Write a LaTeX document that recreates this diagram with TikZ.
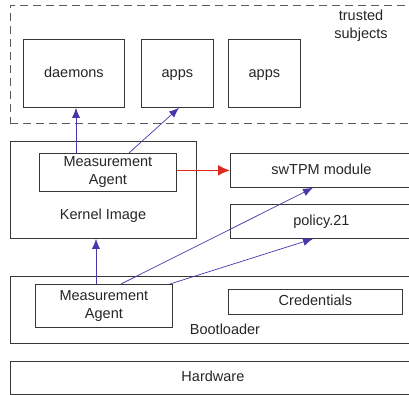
\documentclass[tikz,border=0pt]{standalone}
\usepackage{fontspec}
\setmainfont{Liberation Sans}
\usetikzlibrary{arrows.meta,calc}
\definecolor{boxline}{RGB}{55,55,55}
\definecolor{dashline}{RGB}{90,90,90}
\definecolor{arrblue}{RGB}{70,55,170}
\definecolor{arrred}{RGB}{225,40,30}
\begin{document}
\begin{tikzpicture}[x=1pt,y=-1pt,
  every node/.style={font=\fontsize{14.5}{18}\selectfont, inner sep=0pt, text=black!85},
  txt/.style={text height=10.5pt, text depth=3pt},
  box/.style={draw=boxline, line width=0.8pt, rectangle, anchor=north west},
  dashbox/.style={draw=dashline, line width=0.9pt, dash pattern=on 8pt off 5pt, rectangle, anchor=north west},
  lbl/.style={align=center},
  barrow/.style={draw=arrblue, line width=0.7pt, -{Latex[length=10pt,width=8pt]}},
  rarrow/.style={draw=arrred, line width=1.6pt, -{Latex[length=12pt,width=11pt]}}
]
\useasboundingbox (0,0) rectangle (409,395);
% trusted subjects
\node[dashbox, minimum width=405pt, minimum height=118pt] (trusted) at (10,5) {};
\node[lbl] (tstext) at (361,26) {trusted\\subjects};
\node[box, minimum width=101pt, minimum height=68pt] (daemons) at (23,39) {};
\node[txt] (daemonst) at (daemons.center) {daemons};
\node[box, minimum width=72pt, minimum height=68pt] (apps1) at (141,39) {};
\node[txt] (apps1t) at (apps1.center) {apps};
\node[box, minimum width=72pt, minimum height=68pt] (apps2) at (228,39) {};
\node[txt] (apps2t) at (apps2.center) {apps};
% kernel
\node[box, minimum width=186pt, minimum height=97pt] (kernel) at (10,141) {};
\node[txt] (kernelt) at (103,216) {Kernel Image};
\node[box, minimum width=137pt, minimum height=38pt, fill=white] (kma) at (39,153) {};
\node[lbl] (kmat) at (kma.center) {Measurement\\Agent};
% right boxes
\node[box, minimum width=182pt, minimum height=34pt] (swtpm) at (230,153) {};
\node[txt] (swtpmt) at (swtpm.center) {swTPM module};
\node[box, minimum width=182pt, minimum height=34pt] (policy) at (230,204) {};
\node[txt] (policyt) at (policy.center) {policy.21};
% bootloader
\node[box, minimum width=405pt, minimum height=67pt] (boot) at (10,276) {};
\node[txt] (boott) at (225,331) {Bootloader};
\node[box, minimum width=137pt, minimum height=43pt] (bma) at (35,284) {};
\node[lbl] (bmat) at (bma.center) {Measurement\\Agent};
\node[box, minimum width=174pt, minimum height=25pt] (cred) at (228,289) {};
\node[txt] (credt) at (cred.center) {Credentials};
% hardware
\node[box, minimum width=405pt, minimum height=33pt] (hw) at (10,361) {};
\node[txt] (hwt) at (hw.center) {Hardware};
% arrows
\draw[barrow] ([xshift=37pt]kma.north west) -- ([xshift=53pt]daemons.south west);
\draw[barrow] ([xshift=90pt]kma.north west) -- ([xshift=38pt]apps1.south west);
\draw[barrow] ([xshift=61pt]bma.north west) -- ([xshift=86pt]kernel.south west);
\draw[barrow] ([xshift=86pt]bma.north west) -- ([xshift=83pt]swtpm.south west);
\draw[barrow] ([xshift=135pt]bma.north west) -- ([xshift=83pt]policy.south west);
\draw[rarrow] ([yshift=2pt]kma.east) -- ([yshift=2pt]kma.east -| swtpm.west);
\end{tikzpicture}
\end{document}
